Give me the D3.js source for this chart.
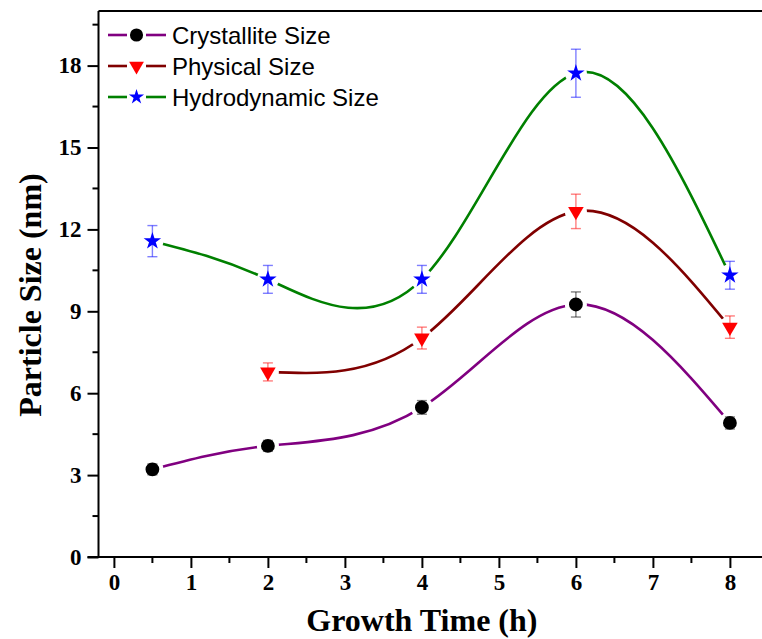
<!DOCTYPE html>
<html>
<head>
<meta charset="utf-8">
<script src="https://cdn.jsdelivr.net/npm/d3@7"></script>
<style>
  html, body { margin: 0; padding: 0; background: #fff; }
  svg { display: block; }
</style>
</head>
<body>
<svg id="chart" width="762" height="639"></svg>
<script>
// Growth time (h) for each measurement
const crystTime = [0.5, 2, 4, 6, 8];
const crystSize = [3.21, 4.07, 5.48, 9.25, 4.91];
const crystErr  = [0.2, 0.2, 0.25, 0.46, 0.22];

const physTime = [2, 4, 6, 8];
const physSize = [6.78, 8.02, 12.66, 8.42];
const physErr  = [0.33, 0.4, 0.63, 0.41];

const hydroTime = [0.5, 2, 4, 6, 8];
const hydroSize = [11.57, 10.17, 10.17, 17.72, 10.32];
const hydroErr  = [0.57, 0.51, 0.51, 0.88, 0.51];

const xTicks = [0, 1, 2, 3, 4, 5, 6, 7, 8];
const yTicks = [0, 3, 6, 9, 12, 15, 18];

const seriesNames = ["Crystallite Size", "Physical Size", "Hydrodynamic Size"];

const series = [
  { name: seriesNames[0], t: crystTime, v: crystSize, e: crystErr,
    line: "#800080", fill: "#000000", err: "#000000", shape: "circle" },
  { name: seriesNames[1], t: physTime, v: physSize, e: physErr,
    line: "#800000", fill: "#ff0000", err: "#ff0000", shape: "triangle" },
  { name: seriesNames[2], t: hydroTime, v: hydroSize, e: hydroErr,
    line: "#008000", fill: "#0000ff", err: "#0000ff", shape: "star" }
];

const svg = d3.select("#chart");

const x = d3.scaleLinear().domain([-0.2, 8.5]).range([98.5, 768.4]);
const y = d3.scaleLinear().domain([0, 20]).range([557, 11]);

const serif = "'Liberation Serif', 'Times New Roman', serif";
const sans = "'Liberation Sans', Arial, sans-serif";

function symbolPath(shape, scale) {
  const s = scale || 1;
  if (shape === "circle") return d3.symbol(d3.symbolCircle, 150 * s)();
  if (shape === "triangle") return d3.symbol(d3.symbolTriangle, 105 * s)();
  return d3.symbol(d3.symbolStar, 95 * s)();
}
function symbolTransform(shape, px, py) {
  return shape === "triangle"
    ? `translate(${px},${py}) rotate(180)`
    : `translate(${px},${py})`;
}

// Frame: top border and left axis line
svg.append("line")
  .attr("x1", x.range()[0]).attr("x2", 762)
  .attr("y1", y(20)).attr("y2", y(20))
  .attr("stroke", "#000").attr("stroke-width", 2);

// Y axis with major and minor ticks
const yAxis = d3.axisLeft(y).tickValues(yTicks).tickSize(11).tickPadding(6)
  .tickFormat(d3.format("d"));
const yG = svg.append("g").attr("transform", `translate(${x.range()[0]},0)`).call(yAxis);
yG.select(".domain").attr("stroke-width", 2).attr("d", `M0,${y(20)}V${y(0)}`);
yG.selectAll(".tick line").attr("stroke-width", 2);
yG.selectAll(".tick text")
  .attr("font-family", serif).attr("font-weight", "bold").attr("font-size", 23).attr("fill", "#000");
const yMinor = d3.range(1.5, 20, 3);
svg.append("g").selectAll("line").data(yMinor).join("line")
  .attr("x1", x.range()[0] - 6).attr("x2", x.range()[0])
  .attr("y1", d => y(d)).attr("y2", d => y(d))
  .attr("stroke", "#000").attr("stroke-width", 2);

// X axis with major and minor ticks
const xAxis = d3.axisBottom(x).tickValues(xTicks).tickSize(11).tickPadding(6)
  .tickFormat(d3.format("d"));
const xG = svg.append("g").attr("transform", `translate(0,${y(0)})`).call(xAxis);
xG.select(".domain").attr("stroke-width", 2).attr("d", `M${x.range()[0] - 11},0H762`);
xG.selectAll(".tick line").attr("stroke-width", 2);
xG.selectAll(".tick text")
  .attr("font-family", serif).attr("font-weight", "bold").attr("font-size", 23).attr("fill", "#000");
const xMinor = d3.range(0.5, 8.5, 1);
svg.append("g").selectAll("line").data(xMinor).join("line")
  .attr("x1", d => x(d)).attr("x2", d => x(d))
  .attr("y1", y(0)).attr("y2", y(0) + 6)
  .attr("stroke", "#000").attr("stroke-width", 2);

// Axis titles
svg.append("text")
  .attr("x", (x(0) + x(8)) / 2).attr("y", 631)
  .attr("text-anchor", "middle")
  .attr("font-family", serif).attr("font-weight", "bold").attr("font-size", 32)
  .text("Growth Time (h)");
svg.append("text")
  .attr("transform", `translate(41,${(y(0) + y(20)) / 2 + 11}) rotate(-90)`)
  .attr("text-anchor", "middle")
  .attr("font-family", serif).attr("font-weight", "bold").attr("font-size", 32)
  .text("Particle Size (nm)");

// Masks leave a gap in each curve around its markers
const defs = svg.append("defs");
series.forEach((s, i) => {
  const m = defs.append("mask").attr("id", `gap${i}`)
    .attr("maskUnits", "userSpaceOnUse")
    .attr("x", 0).attr("y", 0).attr("width", 762).attr("height", 639);
  m.append("rect").attr("width", 762).attr("height", 639).attr("fill", "#fff");
  m.selectAll("circle").data(s.t).join("circle")
    .attr("cx", (d) => x(d)).attr("cy", (d, j) => y(s.v[j]))
    .attr("r", 11).attr("fill", "#000");
});

const line = d3.line().x(d => x(d[0])).y(d => y(d[1])).curve(d3.curveNatural);

series.forEach((s, i) => {
  const pts = s.t.map((t, j) => [t, s.v[j], s.e[j]]);
  const g = svg.append("g");
  g.append("path").datum(pts)
    .attr("d", line)
    .attr("fill", "none").attr("stroke", s.line).attr("stroke-width", 2.6)
    .attr("mask", `url(#gap${i})`);

  // Error bars
  const eb = g.append("g").attr("stroke", s.err).attr("stroke-opacity", 0.5).attr("stroke-width", 1.4);
  eb.selectAll("line.v").data(pts).join("line")
    .attr("x1", d => x(d[0])).attr("x2", d => x(d[0]))
    .attr("y1", d => y(d[1] + d[2])).attr("y2", d => y(d[1] - d[2]));
  eb.selectAll("line.t").data(pts).join("line")
    .attr("x1", d => x(d[0]) - 5).attr("x2", d => x(d[0]) + 5)
    .attr("y1", d => y(d[1] + d[2])).attr("y2", d => y(d[1] + d[2]));
  eb.selectAll("line.b").data(pts).join("line")
    .attr("x1", d => x(d[0]) - 5).attr("x2", d => x(d[0]) + 5)
    .attr("y1", d => y(d[1] - d[2])).attr("y2", d => y(d[1] - d[2]));

  // Markers
  g.selectAll("path.mk").data(pts).join("path")
    .attr("class", "mk")
    .attr("d", symbolPath(s.shape))
    .attr("transform", d => symbolTransform(s.shape, x(d[0]), y(d[1])))
    .attr("fill", s.fill);
});

// Legend
const legend = svg.append("g");
const rowY = [35, 66, 97];
series.forEach((s, i) => {
  const row = legend.append("g").attr("transform", `translate(0,${rowY[i]})`);
  row.append("line").attr("x1", 108).attr("x2", 127).attr("y1", 0).attr("y2", 0)
    .attr("stroke", s.line).attr("stroke-width", 2.6);
  row.append("line").attr("x1", 146).attr("x2", 166).attr("y1", 0).attr("y2", 0)
    .attr("stroke", s.line).attr("stroke-width", 2.6);
  row.append("path")
    .attr("d", symbolPath(s.shape, s.shape === "star" ? 0.75 : 0.9))
    .attr("transform", symbolTransform(s.shape, 136.5, 0))
    .attr("fill", s.fill);
  row.append("text")
    .attr("x", 172).attr("y", 8.5)
    .attr("font-family", sans).attr("font-size", 24)
    .text(s.name);
});
</script>
</body>
</html>
